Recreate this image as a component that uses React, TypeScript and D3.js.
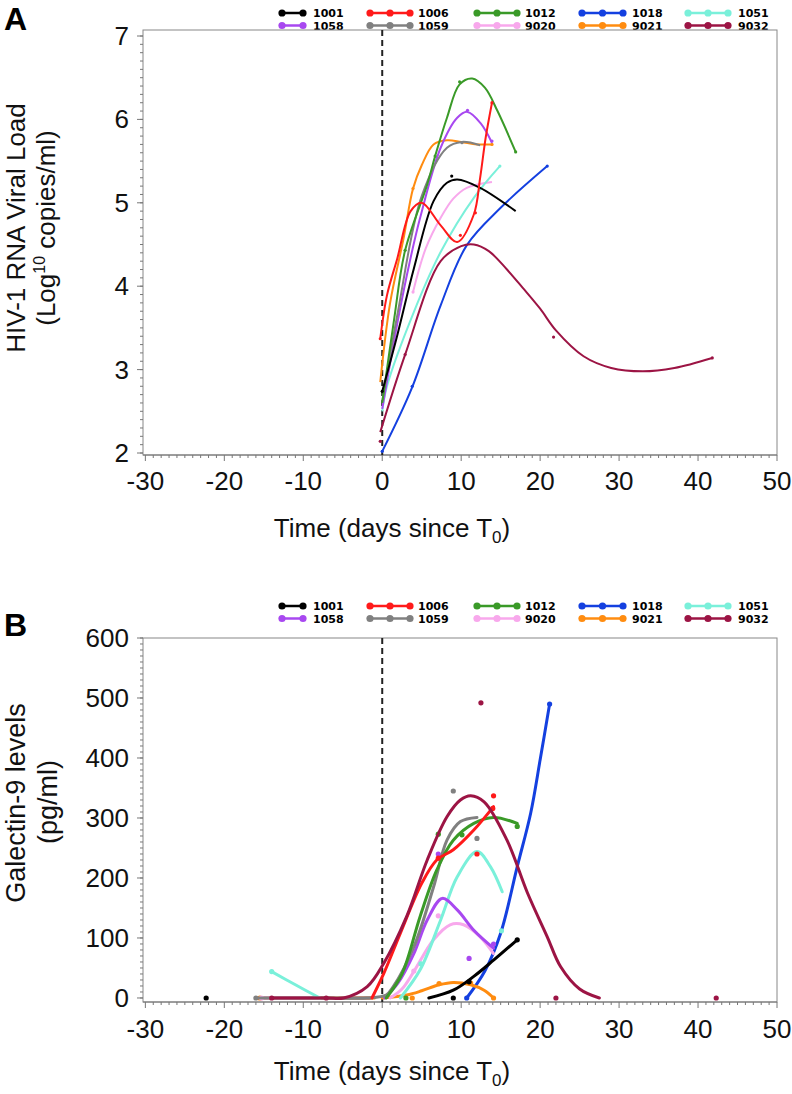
import React from "react";
import * as d3 from "d3";

// ---------- shared categories / styling ----------
const seriesIds = ["1001", "1006", "1012", "1018", "1051", "1058", "1059", "9020", "9021", "9032"];
const seriesColors = ["#000000", "#ff1a1a", "#3a9a28", "#1440e0", "#7af0da", "#a848f0", "#808080", "#f8a8ec", "#ff8c10", "#9c1444"];
const xTickValues = [-30, -20, -10, 0, 10, 20, 30, 40, 50];
const yTicksA = [2, 3, 4, 5, 6, 7];
const yTicksB = [0, 100, 200, 300, 400, 500, 600];

// ---------- Panel A: HIV-1 RNA viral load (log10) fitted curves [day, value] ----------
const vl1001 = [[0, 2.74], [1.9, 3.41], [4, 4.21], [6.5, 5.02], [8.2, 5.24], [9.5, 5.28], [12.4, 5.18], [16.9, 4.9]];
const vl1006 = [[-0.25, 3.37], [0.6, 3.89], [1.9, 4.33], [3.6, 4.9], [5, 5.0], [7.4, 4.73], [9.5, 4.53], [11.6, 4.86], [12.4, 5.3], [13.1, 5.78], [13.9, 6.2]];
const vl1012 = [[0, 2.6], [1.5, 3.6], [2.9, 4.43], [5.7, 5.22], [6.7, 5.56], [8.2, 6.02], [9.8, 6.42], [11.4, 6.49], [13, 6.38], [14.6, 6.1], [16.9, 5.61]];
const vl1018 = [[0, 2.02], [3.8, 2.79], [7.4, 3.77], [10.7, 4.49], [15, 4.94], [20.9, 5.44]];
const vl1051 = [[0, 2.5], [0.6, 2.8], [4, 3.69], [7.4, 4.41], [11.6, 5.06], [14.9, 5.44]];
const vl1058 = [[0, 2.53], [2, 3.6], [3.5, 4.3], [4.8, 4.82], [7.4, 5.66], [9.5, 6.02], [10.8, 6.09], [12.5, 5.95], [13.9, 5.72]];
const vl1059 = [[0, 2.62], [2, 3.7], [5, 5.08], [8.2, 5.66], [10.1, 5.73], [12.4, 5.69]];
const vl9020 = [[3.9, 3.93], [5.5, 4.45], [7.4, 4.82], [9, 5.05], [10.7, 5.18], [13.9, 5.25]];
const vl9021 = [[-0.25, 2.85], [1, 3.8], [2.7, 4.57], [3.9, 5.17], [5, 5.45], [6.5, 5.7], [8.2, 5.75], [10, 5.73], [12, 5.7], [13.9, 5.7]];
const vl9032 = [[-0.25, 2.25], [2.9, 3.18], [7.4, 4.3], [10, 4.48], [11.6, 4.5], [13.5, 4.42], [15.8, 4.2], [17.8, 3.98], [20, 3.73], [22, 3.47], [25.5, 3.16], [29, 3.02], [33, 2.98], [37, 3.02], [41.8, 3.14]];

// Panel A observed points [day, value]
const vlPts1001 = [[8.8, 5.32], [0, 2.74]];
const vlPts1006 = [[9.9, 4.61], [11.8, 4.88], [13.9, 6.2], [-0.25, 3.37]];
const vlPts1012 = [[2.9, 4.43], [6.7, 5.56], [9.8, 6.45], [16.9, 5.61]];
const vlPts1018 = [[3.8, 2.8], [20.9, 5.44], [0, 2.02]];
const vlPts1051 = [[14.9, 5.44]];
const vlPts1058 = [[10.8, 6.11], [13.9, 5.74]];
const vlPts1059 = [[10.1, 5.72]];
const vlPts9020 = [[3.9, 3.93]];
const vlPts9021 = [[3.9, 5.17], [13.9, 5.7]];
const vlPts9032 = [[-0.25, 2.14], [2.9, 3.18], [21.7, 3.39], [41.8, 3.14]];

// ---------- Panel B: Galectin-9 (pg/ml) fitted curve segments ----------
const gal1001 = [[[5.9, 0], [9, 13], [11.6, 36], [14.1, 63], [17.1, 97]]];
const gal1006 = [[[-1.3, 0], [0.2, 41], [2.3, 108], [5, 191], [6.9, 230], [9, 247], [11.6, 280], [14.1, 319]]];
const gal1012 = [[[0.5, 0], [2.5, 40], [4.8, 136], [6.9, 213], [9, 263], [11.6, 291], [14.1, 301], [17.1, 291]]];
const gal1018 = [[[-15, 0], [-1.5, 0]], [[10.7, 0], [13, 45], [15, 108], [17.1, 219], [18.8, 308], [20, 397], [21.2, 490]]];
const gal1051 = [[[-14, 44], [-11, 22], [-7.9, 0]], [[2.3, 0], [4.8, 47], [7.4, 130], [9.5, 202], [12, 244], [13.7, 219], [15.2, 177]]];
const gal1058 = [[[0.3, 0], [2, 25], [4, 74], [5.7, 130], [7.6, 166], [9.5, 147], [11.6, 113], [14.1, 83]]];
const gal1059 = [[[-16, 0], [-8, 0], [-2, 0], [0.5, 5], [1.4, 19], [4, 85], [6.5, 185], [8.2, 263], [9.9, 294], [12, 301]]];
const gal9020 = [[[-15.3, 0], [-7.9, 0]], [[1, 0], [2.5, 15], [4, 44], [6.5, 97], [8.6, 122], [10.3, 122], [12.4, 102], [14.1, 74]]];
const gal9021 = [[[-15.5, 0], [-1, 0]], [[0, 0], [3.1, 5], [5, 12], [7.2, 22], [9, 26], [11.2, 22], [12.9, 13], [14.1, 0]]];
const gal9032 = [[[-14, 0], [-7, 0], [-4.9, 0], [-1.9, 19], [0.2, 58], [3.1, 136], [5.7, 230], [8.2, 302], [9.9, 330], [11.2, 337], [12.9, 327], [15.8, 263], [18.4, 175], [20.9, 102], [22.6, 52], [25, 15], [27.5, 0]]];

// Panel B observed points
const galPts1001 = [[-22.3, 0], [9, 0], [11, 27], [17.1, 97]];
const galPts1006 = [[7.1, 233], [12, 240], [14.1, 337], [14, 316]];
const galPts1012 = [[3, 0], [7.1, 273], [10.1, 272], [17.1, 286]];
const galPts1018 = [[10.7, 0], [21.2, 490]];
const galPts1051 = [[-14, 44], [4.9, 57], [12, 241], [15.1, 112]];
const galPts1058 = [[7.1, 240], [11, 66], [14.1, 90]];
const galPts1059 = [[-16, 0], [9, 345], [12, 266]];
const galPts9020 = [[-15.3, 0], [7.1, 137], [4, 45]];
const galPts9021 = [[-15.5, 0], [3.8, 0], [7.2, 24], [11.2, 25], [14.1, 0]];
const galPts9032 = [[-14, 0], [-7.1, 0], [12.5, 492], [22, 0], [42.3, 0]];

const vlCurves = [vl1001, vl1006, vl1012, vl1018, vl1051, vl1058, vl1059, vl9020, vl9021, vl9032];
const vlPoints = [vlPts1001, vlPts1006, vlPts1012, vlPts1018, vlPts1051, vlPts1058, vlPts1059, vlPts9020, vlPts9021, vlPts9032];
const galCurves = [gal1001, gal1006, gal1012, gal1018, gal1051, gal1058, gal1059, gal9020, gal9021, gal9032];
const galPoints = [galPts1001, galPts1006, galPts1012, galPts1018, galPts1051, galPts1058, galPts1059, galPts9020, galPts9021, galPts9032];

// draw order (back to front)
const drawOrder = [3, 8, 7, 4, 5, 6, 2, 0, 1, 9];

const FONT = "'Liberation Sans', Arial, Helvetica, sans-serif";

function Legend({ y0 }: { y0: number }) {
  const colX = [282, 370, 477, 582, 688];
  const colEnd = [303, 410, 517, 623, 728];
  const textX = [313, 418, 525, 632, 738];
  const rows = [[0, 1, 2, 3, 4], [5, 6, 7, 8, 9]];
  return (
    <g>
      {rows.map((row, ri) =>
        row.map((si, ci) => {
          const y = y0 + ri * 12.5;
          const x1 = colX[ci];
          const x2 = colEnd[ci];
          const dots = ci === 0 ? [x1, x2] : [x1, (x1 + x2) / 2, x2];
          return (
            <g key={si}>
              <line x1={x1} x2={x2} y1={y} y2={y} stroke={seriesColors[si]} strokeWidth={2.5} />
              {dots.map((dx, k) => (
                <circle key={k} cx={dx} cy={y} r={3.6} fill={seriesColors[si]} />
              ))}
              <text x={textX[ci]} y={y + 4} fontFamily="'DejaVu Sans', sans-serif" fontWeight="bold" fontSize={11} fill="#000">
                {seriesIds[si]}
              </text>
            </g>
          );
        })
      )}
    </g>
  );
}

function XAxis({ x, yAxis, labelY, titleY }: any) {
  const minor = d3.range(-30, 51, 1);
  return (
    <g>
      <line x1={x.range()[0]} x2={x.range()[1]} y1={yAxis} y2={yAxis} stroke="#777" strokeWidth={1} />
      {minor.map((d) => (
        <line key={"m" + d} x1={x(d)} x2={x(d)} y1={yAxis} y2={yAxis + (d % 10 === 0 ? 6 : 3)} stroke="#777" strokeWidth={1} />
      ))}
      {xTickValues.map((d) => (
        <text key={d} x={x(d)} y={labelY} textAnchor="middle" fontFamily={FONT} fontSize={26} fill="#111">
          {d}
        </text>
      ))}
      <text x={392} y={titleY} textAnchor="middle" fontFamily={FONT} fontSize={26} fill="#111">
        Time (days since T<tspan fontSize={17} dy={6}>0</tspan>
        <tspan dy={-6}>)</tspan>
      </text>
    </g>
  );
}

function YAxis({ y, ticks, minorStep, xAxis, fmt }: any) {
  const [d0, d1] = y.domain();
  const minor = d3.range(Math.ceil(d0 / minorStep) * minorStep, d1 + 1e-9, minorStep);
  return (
    <g>
      {minor.map((d: number, i: number) => (
        <line key={"m" + i} x1={xAxis - 3} x2={xAxis} y1={y(d)} y2={y(d)} stroke="#777" strokeWidth={1} />
      ))}
      {ticks.map((d: number) => (
        <g key={d}>
          <line x1={xAxis - 6} x2={xAxis} y1={y(d)} y2={y(d)} stroke="#777" strokeWidth={1} />
          <text x={xAxis - 14} y={y(d) + 9} textAnchor="end" fontFamily={FONT} fontSize={26} fill="#111">
            {fmt(d)}
          </text>
        </g>
      ))}
    </g>
  );
}

export default function App() {
  const left = 143;
  const right = 777;
  const x = d3.scaleLinear().domain([-30.3, 50]).range([left, right]);

  // Panel A
  const topA = 30;
  const axisA = 455;
  const yA = d3.scaleLinear().domain([2, 7]).range([453, 36]);
  const lineA = d3
    .line<number[]>()
    .x((d) => x(d[0]))
    .y((d) => yA(d[1]))
    .curve(d3.curveCatmullRom.alpha(0.5));

  // Panel B
  const topB = 638;
  const axisB = 1002;
  const yB = d3.scaleLinear().domain([0, 600]).range([998, 638]);
  const yBAxis = d3.scaleLinear().domain([-6.7, 600]).range([1002, 638]);
  const lineB = d3
    .line<number[]>()
    .x((d) => x(d[0]))
    .y((d) => yB(d[1]))
    .curve(d3.curveCatmullRom.alpha(0.5));

  return (
    <svg width={792} height={1094} style={{ position: "absolute", left: 0, top: 0, background: "#fff" }}>
      <rect x={0} y={0} width={792} height={1094} fill="#fff" />
      {/* ===== Panel A ===== */}
      <text x={4} y={30} fontFamily={FONT} fontWeight="bold" fontSize={32} fill="#000">A</text>
      <Legend y0={13} />
      <rect x={left} y={topA} width={right - left} height={axisA - topA} fill="none" stroke="#888" strokeWidth={1} />
      <YAxis y={yA} ticks={yTicksA} minorStep={0.1} xAxis={left} fmt={(d: number) => String(d)} />
      <XAxis x={x} yAxis={axisA} labelY={490} titleY={537} />
      <g transform="translate(25,228) rotate(-90)">
        <text textAnchor="middle" fontFamily={FONT} fontSize={26} fill="#111">HIV-1 RNA Viral Load</text>
      </g>
      <g transform="translate(55,228) rotate(-90)">
        <text textAnchor="middle" fontFamily={FONT} fontSize={26} fill="#111">
          (Log<tspan fontSize={16} dy={-10}>10</tspan>
          <tspan dy={10}> copies/ml)</tspan>
        </text>
      </g>
      <line x1={x(0)} x2={x(0)} y1={topA} y2={axisA} stroke="#222" strokeWidth={2} strokeDasharray="6,4" />
      <g>
        {drawOrder.map((si) => (
          <g key={si}>
            <path d={lineA(vlCurves[si] as number[][]) || ""} fill="none" stroke={seriesColors[si]} strokeWidth={2} />
            {vlPoints[si].map((p, k) => (
              <circle key={k} cx={x(p[0])} cy={yA(p[1])} r={1.6} fill={seriesColors[si]} />
            ))}
          </g>
        ))}
      </g>

      {/* ===== Panel B ===== */}
      <text x={4} y={636} fontFamily={FONT} fontWeight="bold" fontSize={32} fill="#000">B</text>
      <Legend y0={606} />
      <rect x={left} y={topB} width={right - left} height={axisB - topB} fill="none" stroke="#888" strokeWidth={1} />
      <YAxis y={yBAxis} ticks={yTicksB} minorStep={10} xAxis={left} fmt={(d: number) => String(d)} />
      <XAxis x={x} yAxis={axisB} labelY={1038} titleY={1080} />
      <g transform="translate(25,803) rotate(-90)">
        <text textAnchor="middle" fontFamily={FONT} fontSize={27} fill="#111">Galectin-9 levels</text>
      </g>
      <g transform="translate(57,802) rotate(-90)">
        <text textAnchor="middle" fontFamily={FONT} fontSize={27} fill="#111">(pg/ml)</text>
      </g>
      <line x1={x(0)} x2={x(0)} y1={topB} y2={axisB} stroke="#222" strokeWidth={2} strokeDasharray="6,4" />
      <g>
        {drawOrder.map((si) => (
          <g key={si}>
            {galCurves[si].map((seg, k) => (
              <path key={k} d={lineB(seg as number[][]) || ""} fill="none" stroke={seriesColors[si]} strokeWidth={3} strokeLinecap="round" />
            ))}
            {galPoints[si].map((p, k) => (
              <circle key={k} cx={x(p[0])} cy={yB(p[1])} r={2.6} fill={seriesColors[si]} />
            ))}
          </g>
        ))}
      </g>
    </svg>
  );
}
